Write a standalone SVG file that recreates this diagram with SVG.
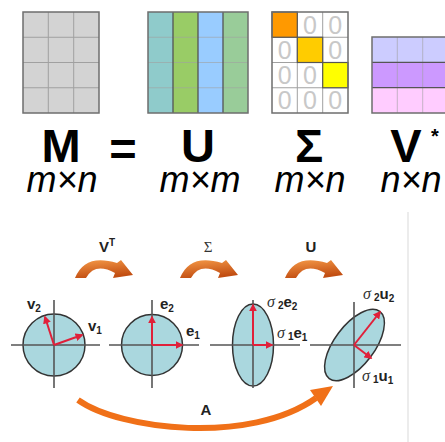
<svg xmlns="http://www.w3.org/2000/svg" width="445" height="442" viewBox="0 0 445 442">
<defs>
<style>
.big{font-family:"Liberation Sans",Arial,sans-serif;font-weight:bold;font-size:47px;fill:#000;text-anchor:middle}
.dim{font-family:"Liberation Sans",Arial,sans-serif;font-style:italic;font-size:36px;fill:#000;text-anchor:middle}
.zero{font-family:"Liberation Sans",Arial,sans-serif;font-size:25px;fill:#c8c8c8;text-anchor:middle}
.lbl{font-family:"Liberation Sans",Arial,sans-serif;font-weight:bold;font-size:15px;fill:#222}
.sub{font-size:10px}
.sig{font-family:"Liberation Serif","Times New Roman",serif;font-style:italic;font-weight:normal;font-size:16px;fill:#333}
.border{fill:none;stroke:#6e6e6e;stroke-width:1.5}
.thin{stroke:#a0a0a0;stroke-width:1;fill:none}
.dark{stroke:#555;stroke-width:1.3;fill:none}
.disk{fill:#aad7de;stroke:#333;stroke-width:1.5}
.axis{stroke:#555;stroke-width:1.6;fill:none}
.vec{stroke:#e0203a;stroke-width:2;fill:none;marker-end:url(#rh)}
.curl{fill:url(#og)}
</style>
<marker id="rh" viewBox="0 0 10 10" refX="8" refY="5" markerWidth="4" markerHeight="4" orient="auto" markerUnits="strokeWidth">
<path d="M0,0 L10,5 L0,10 Z" fill="#e0203a"/>
</marker>
<linearGradient id="og" x1="0" y1="0" x2="0.3" y2="1">
<stop offset="0" stop-color="#f59a48"/>
<stop offset="1" stop-color="#c24e12"/>
</linearGradient>
<path id="curlShape" d="M2,20 Q12,-5 44,5 L48,2 L60,17 L40,20 L42,15 Q22,4 13,20 Z"/>
</defs>
<rect width="445" height="442" fill="#fff"/>

<!-- Matrix M -->
<g id="matM">
<rect x="23" y="12" width="76" height="101" fill="#d3d3d3"/>
<path class="thin" d="M48.3,12V113M73.7,12V113M23,37.25H99M23,62.5H99M23,87.75H99"/>
<rect class="border" x="23" y="12" width="76" height="101"/>
</g>

<!-- Matrix U -->
<g id="matU">
<rect x="148" y="12" width="25" height="101" fill="#8fcbcb"/>
<rect x="173" y="12" width="25" height="101" fill="#99cc66"/>
<rect x="198" y="12" width="25" height="101" fill="#99ccff"/>
<rect x="223" y="12" width="25" height="101" fill="#99cc99"/>
<path class="thin" d="M148,37.25H248M148,62.5H248M148,87.75H248" stroke-opacity="0.6"/>
<path class="dark" d="M173,12V113M198,12V113M223,12V113"/>
<rect class="border" x="148" y="12" width="100" height="101"/>
</g>

<!-- Matrix Sigma -->
<g id="matS">
<rect x="272" y="12" width="76" height="101" fill="#fff"/>
<path class="thin" d="M297.3,12V113M322.7,12V113M272,37.25H348M272,62.5H348M272,87.75H348" stroke="#bdbdbd"/>
<rect x="272" y="12" width="25.3" height="25.25" fill="#ff9900" stroke="#555" stroke-width="1.2"/>
<rect x="297.3" y="37.25" width="25.4" height="25.25" fill="#ffcc00" stroke="#555" stroke-width="1.2"/>
<rect x="322.7" y="62.5" width="25.3" height="25.25" fill="#ffff00" stroke="#555" stroke-width="1.2"/>
<text class="zero" x="310" y="33.5">0</text>
<text class="zero" x="335.3" y="33.5">0</text>
<text class="zero" x="284.7" y="58.8">0</text>
<text class="zero" x="335.3" y="58.8">0</text>
<text class="zero" x="284.7" y="84">0</text>
<text class="zero" x="310" y="84">0</text>
<text class="zero" x="284.7" y="109.3">0</text>
<text class="zero" x="310" y="109.3">0</text>
<text class="zero" x="335.3" y="109.3">0</text>
<rect class="border" x="272" y="12" width="76" height="101"/>
</g>

<!-- Matrix V* -->
<g id="matV">
<rect x="372" y="37" width="76" height="25.3" fill="#ccccff"/>
<rect x="372" y="62.3" width="76" height="25.4" fill="#cc99ff"/>
<rect x="372" y="87.7" width="76" height="25.3" fill="#ffccff"/>
<path class="thin" d="M397.3,37V113M422.7,37V113" stroke-opacity="0.6"/>
<path class="dark" d="M372,62.3H448M372,87.7H448"/>
<rect class="border" x="372" y="37" width="76" height="76"/>
</g>

<!-- Equation labels -->
<g id="labels">
<text class="big" x="61" y="162">M</text>
<text class="big" x="123" y="165">=</text>
<text class="big" x="198" y="162">U</text>
<text class="big" x="309" y="162">Σ</text>
<text class="big" x="406" y="162">V</text>
<text class="big" x="435" y="143" style="font-size:20px">*</text>
<text class="dim" x="62" y="192">m×n</text>
<text class="dim" x="200" y="192">m×m</text>
<text class="dim" x="310" y="192">m×n</text>
<text class="dim" x="411" y="192">n×n</text>
</g>

<line x1="408" y1="212" x2="408" y2="442" stroke="#e6e6e6" stroke-width="1.5"/>

<!-- Transformation step labels -->
<g id="steps">
<text class="lbl" x="99" y="252">V<tspan class="sub" dy="-6">T</tspan></text>
<text x="208" y="252" style="font-family:'Liberation Serif','Times New Roman',serif;font-size:15px;fill:#333;text-anchor:middle">Σ</text>
<text class="lbl" x="311" y="252" text-anchor="middle">U</text>
</g>

<!-- Curved step arrows -->
<g id="curls">
<use href="#curlShape" class="curl" transform="translate(73,258)"/>
<use href="#curlShape" class="curl" transform="translate(178,258)"/>
<use href="#curlShape" class="curl" transform="translate(283,258)"/>
</g>

<!-- Circle 1 -->
<g id="circle1">
<circle class="disk" cx="54" cy="345" r="31"/>
<path class="axis" d="M11,345H100M54,300V388"/>
<line class="vec" x1="54" y1="345" x2="45" y2="317"/>
<line class="vec" x1="54" y1="345" x2="82" y2="335"/>
<text class="lbl" x="27" y="309">v<tspan class="sub" dy="3">2</tspan></text>
<text class="lbl" x="88" y="331">v<tspan class="sub" dy="3">1</tspan></text>
</g>

<!-- Circle 2 -->
<g id="circle2">
<circle class="disk" cx="152" cy="345" r="30.5"/>
<path class="axis" d="M109,345H199M152,300V388"/>
<line class="vec" x1="152" y1="345" x2="152" y2="317"/>
<line class="vec" x1="152" y1="345" x2="182" y2="345"/>
<text class="lbl" x="160" y="309">e<tspan class="sub" dy="3">2</tspan></text>
<text class="lbl" x="186" y="336">e<tspan class="sub" dy="3">1</tspan></text>
</g>

<!-- Ellipse 3 -->
<g id="ellipse3">
<ellipse class="disk" cx="253" cy="345" rx="20.5" ry="41"/>
<path class="axis" d="M210,345H300M253,300V388"/>
<line class="vec" x1="253" y1="345" x2="253" y2="305"/>
<line class="vec" x1="253" y1="345" x2="272" y2="345"/>
<text class="lbl" x="267" y="307"><tspan class="sig">σ</tspan><tspan class="sub" dx="3" dy="2">2</tspan><tspan dy="-2">e</tspan><tspan class="sub" dy="3">2</tspan></text>
<text class="lbl" x="277" y="338"><tspan class="sig">σ</tspan><tspan class="sub" dx="3" dy="2">1</tspan><tspan dy="-2">e</tspan><tspan class="sub" dy="3">1</tspan></text>
</g>

<!-- Ellipse 4 -->
<g id="ellipse4">
<ellipse class="disk" cx="354.5" cy="345" rx="42" ry="20" transform="rotate(-53 354.5 345)"/>
<path class="axis" d="M310,345H401M354,302V388"/>
<line class="vec" x1="354" y1="345" x2="380" y2="312"/>
<line class="vec" x1="354" y1="345" x2="371" y2="358"/>
<text class="lbl" x="363" y="299"><tspan class="sig">σ</tspan><tspan class="sub" dx="3" dy="2">2</tspan><tspan dy="-2">u</tspan><tspan class="sub" dy="3">2</tspan></text>
<text class="lbl" x="362" y="381"><tspan class="sig">σ</tspan><tspan class="sub" dx="3" dy="2">1</tspan><tspan dy="-2">u</tspan><tspan class="sub" dy="3">1</tspan></text>
</g>

<!-- Overall transform arrow A -->
<g id="arrowA">
<path d="M78,400 C120,430 250,445 316,398" fill="none" stroke="#f07018" stroke-width="6"/>
<path d="M333,386 L321,406 L310,390 Z" fill="#f07018"/>
<text class="lbl" x="206" y="415" text-anchor="middle">A</text>
</g>
</svg>
